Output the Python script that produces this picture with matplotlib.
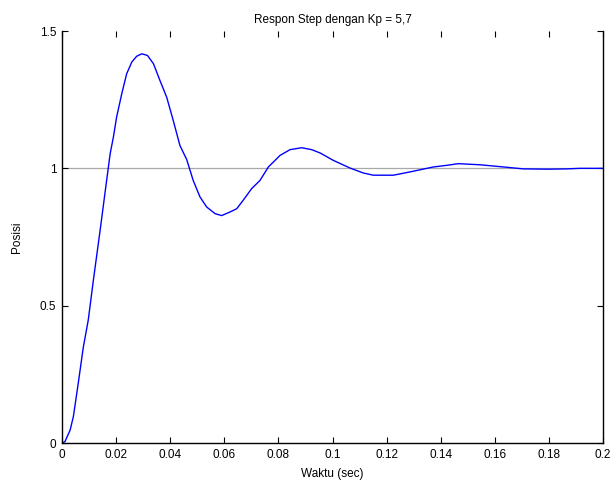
import matplotlib
matplotlib.use("Agg")
import matplotlib.pyplot as plt

plt.rcParams['font.family'] = ['Liberation Sans', 'DejaVu Sans']

t = [0, 0.0011, 0.003, 0.0042, 0.006, 0.0079, 0.0097, 0.0116, 0.0141, 0.0165,
     0.0178, 0.019, 0.0202, 0.0221, 0.0239, 0.0258, 0.0276, 0.0295, 0.0316,
     0.0338, 0.0362, 0.0387, 0.0411, 0.0436, 0.0461, 0.0485, 0.051, 0.0535,
     0.0566, 0.059, 0.0621, 0.0646, 0.067, 0.0701, 0.0732, 0.0763, 0.0806,
     0.0843, 0.0886, 0.0923, 0.0954, 0.1003, 0.1065, 0.1114, 0.1151, 0.1225,
     0.1287, 0.1373, 0.1423, 0.1465, 0.1545, 0.1632, 0.1706, 0.18, 0.1866,
     0.1915, 0.2]
y = [0, 0.005, 0.047, 0.096, 0.217, 0.35, 0.447, 0.593, 0.775, 0.956,
     1.053, 1.114, 1.187, 1.272, 1.344, 1.387, 1.408, 1.417, 1.411,
     1.381, 1.32, 1.259, 1.175, 1.083, 1.032, 0.956, 0.896, 0.859,
     0.835, 0.828, 0.841, 0.853, 0.884, 0.926, 0.956, 1.005, 1.047,
     1.068, 1.075, 1.068, 1.056, 1.029, 1.001, 0.983, 0.975, 0.975,
     0.987, 1.005, 1.011, 1.017, 1.013, 1.005, 0.998, 0.997, 0.998,
     1.0, 1.0]

xticks = [0, 0.02, 0.04, 0.06, 0.08, 0.1, 0.12, 0.14, 0.16, 0.18, 0.2]
xticklabels = ['0', '0.02', '0.04', '0.06', '0.08', '0.1', '0.12', '0.14', '0.16', '0.18', '0.2']
yticks = [0, 0.5, 1, 1.5]
yticklabels = ['0', '0.5', '1', '1.5']
ref_level = 1.0

fig = plt.figure(figsize=(6.14, 4.94), dpi=100)
ax = fig.add_axes([62/614, 51/494, 541/614, 412/494])
ax.axhline(ref_level, color='#a8a8a8', lw=0.9, zorder=1)
ax.plot(t, y, color='#0000ff', lw=1.0, zorder=2)
ax.set_xlim(0, 0.2)
ax.set_ylim(0, 1.5)
ax.set_xticks(xticks)
ax.set_xticklabels(xticklabels)
ax.set_yticks(yticks)
ax.set_yticklabels(yticklabels)
ax.tick_params(direction='in', length=4, width=0.8, top=True, right=True,
               labelsize=8.5, colors='black', pad=4)
ax.spines['top'].set_visible(False)
for s in ['left', 'bottom', 'right']:
    ax.spines[s].set_linewidth(1.0)
ax.set_title('Respon Step dengan Kp = 5,7', fontsize=8.5, pad=6)
ax.set_xlabel('Waktu (sec)', fontsize=8.5, labelpad=5)
ax.set_ylabel('Posisi', fontsize=8.5, labelpad=12)
fig.savefig('out.png', dpi=100)
